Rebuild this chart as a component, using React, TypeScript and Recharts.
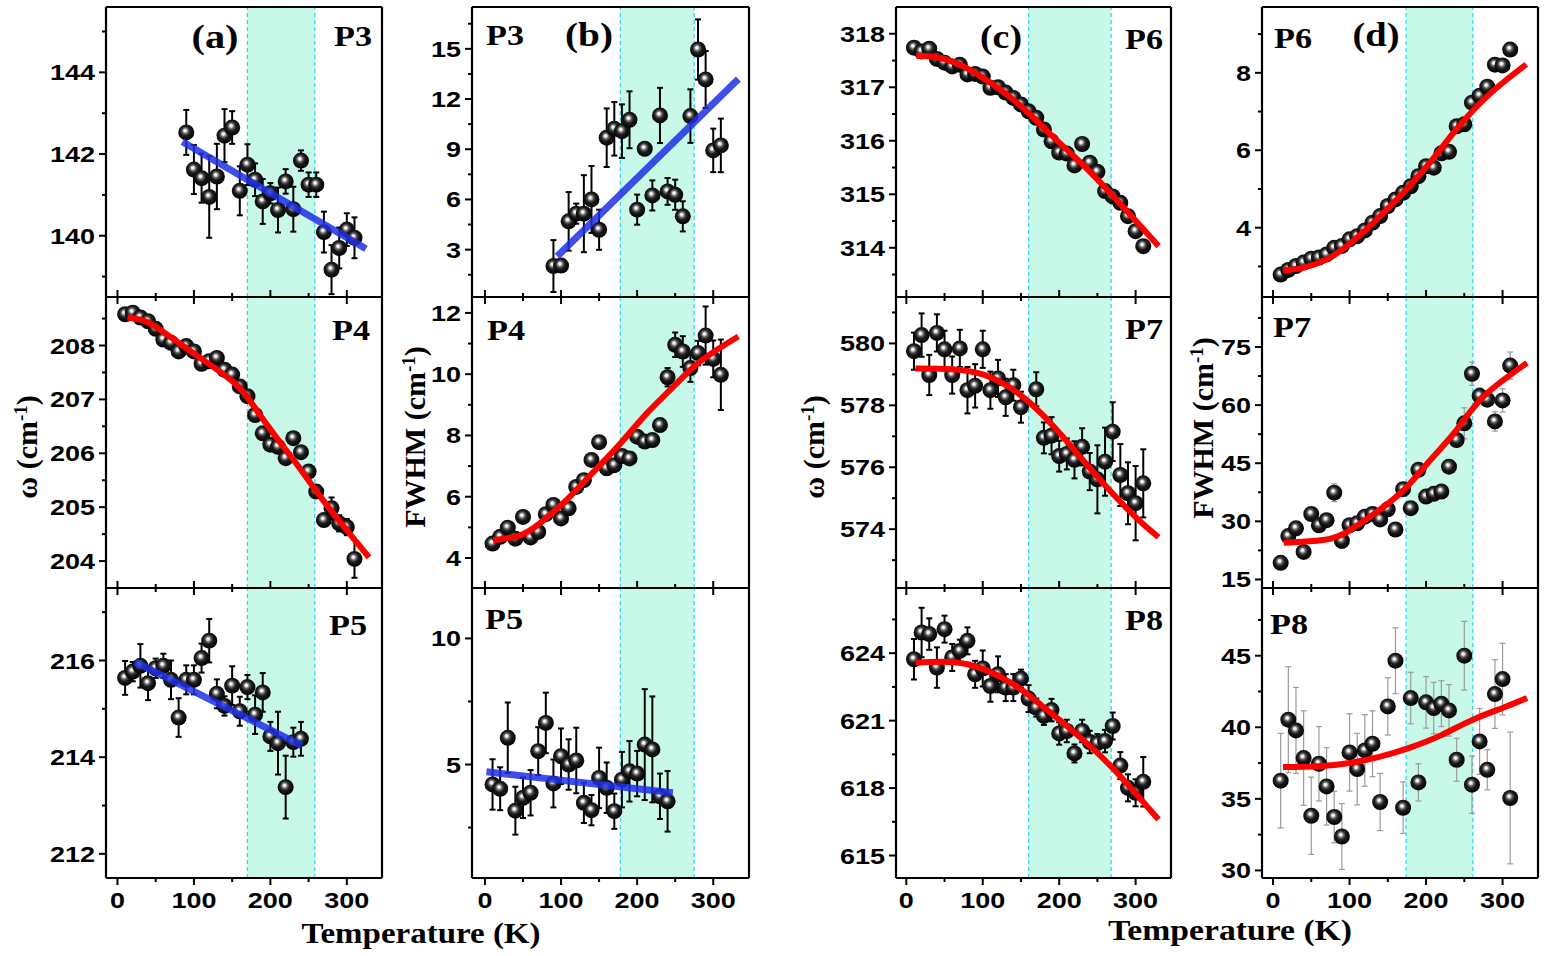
import React from "react";
import {
  ComposedChart,
  Scatter,
  XAxis,
  YAxis,
  ErrorBar,
  ReferenceArea,
  ReferenceLine,
} from "recharts";

// temperature grids (K)
const tempsAll = [10, 20, 30, 40, 50, 60, 70, 80, 90, 100, 110, 120, 130, 140, 150, 160, 170, 180, 190, 200, 210, 220, 230, 240, 250, 260, 270, 280, 290, 300, 310];
const tempsLow = [10, 20, 30, 40, 50, 60, 70, 80, 90, 100, 110, 120, 130, 140, 150, 160, 170, 180, 190, 200, 210, 220, 230, 240];
const tempsP3 = [90, 100, 110, 120, 130, 140, 150, 160, 170, 180, 190, 200, 210, 220, 230, 240, 250, 260, 270, 280, 290, 300, 310];
const tempsP7w = [10, 20, 30, 40, 50, 60, 70, 80, 90, 100, 110, 120, 130, 140, 150, 170, 180, 190, 200, 210, 220, 230, 240, 250, 260, 270, 280, 290, 300, 310];

const xMajor = [0, 100, 200, 300];
const xMinor = [50, 150, 250];

// (a) P3 omega
const wP3 = [142.53, 141.62, 141.41, 140.95, 141.45, 142.45, 142.65, 141.1, 141.74, 141.37, 140.84, 141.04, 140.63, 141.33, 140.65, 141.84, 141.25, 141.25, 140.09, 139.17, 139.7, 140.15, 139.95];
const wP3err = [0.55, 0.6, 0.6, 1.0, 0.8, 0.65, 0.4, 0.6, 0.5, 0.4, 0.55, 0.25, 0.55, 0.3, 0.55, 0.25, 0.3, 0.3, 0.5, 0.6, 0.5, 0.4, 0.5];
const wP3fitT = [85, 325];
const wP3fitV = [142.3, 139.68];

// (b) P3 FWHM
const gP3 = [2.02, 2.05, 4.69, 5.15, 5.15, 6.0, 4.19, 9.69, 10.22, 10.08, 10.76, 5.39, 9.03, 6.24, 11.02, 6.48, 6.28, 4.99, 10.98, 14.96, 13.17, 8.93, 9.23];
const gP3err = [1.55, 0.3, 1.75, 0.6, 2.3, 2.0, 1.2, 1.75, 1.6, 1.6, 1.7, 0.9, 0, 0.9, 1.65, 0.8, 0.9, 0.9, 1.6, 1.8, 1.7, 1.3, 1.6];
const gP3fitT = [95, 333];
const gP3fitV = [2.6, 13.2];

// (c) P6 omega
const wP6 = [317.74, 317.67, 317.72, 317.53, 317.46, 317.39, 317.42, 317.24, 317.25, 317.2, 316.99, 317.0, 316.9, 316.8, 316.68, 316.55, 316.43, 316.21, 315.99, 315.78, 315.76, 315.54, 315.94, 315.59, 315.42, 315.06, 314.96, 314.84, 314.59, 314.31, 314.03];
const wP6fitT = [13, 40, 70, 100, 130, 160, 190, 220, 250, 280, 310, 330];
const wP6fitV = [317.59, 317.56, 317.42, 317.18, 316.88, 316.52, 316.1, 315.7, 315.28, 314.82, 314.35, 314.03];

// (d) P6 FWHM
const gP6 = [2.79, 2.91, 3.01, 3.1, 3.2, 3.23, 3.31, 3.48, 3.53, 3.7, 3.78, 3.93, 4.13, 4.3, 4.56, 4.73, 4.9, 5.07, 5.33, 5.59, 5.55, 5.92, 5.96, 6.62, 6.67, 7.23, 7.41, 7.64, 8.21, 8.19, 8.6];
const gP6fitT = [13, 40, 70, 100, 135, 170, 205, 240, 283, 331];
const gP6fitV = [2.9, 2.97, 3.18, 3.58, 4.2, 4.9, 5.68, 6.55, 7.45, 8.22];

// P4 omega
const wP4 = [208.58, 208.61, 208.52, 208.45, 208.31, 208.11, 208.05, 207.89, 207.99, 207.89, 207.66, 207.71, 207.77, 207.55, 207.46, 207.24, 207.06, 206.71, 206.37, 206.16, 206.12, 205.91, 206.28, 206.02, 205.66, 205.29, 204.76, 204.98, 204.7, 204.63, 204.04];
const wP4err = [0.05, 0.05, 0.05, 0.05, 0.05, 0.05, 0.05, 0.05, 0.05, 0.05, 0.05, 0.05, 0.05, 0.05, 0.05, 0.05, 0.05, 0.05, 0.05, 0.05, 0.05, 0.05, 0.05, 0.05, 0.05, 0.1, 0.1, 0.2, 0.15, 0.15, 0.35];
const wP4fitT = [13, 30, 52, 99, 151, 177, 207, 237, 272, 329];
const wP4fitV = [208.52, 208.48, 208.33, 207.86, 207.33, 206.9, 206.31, 205.75, 205.07, 204.07];

// P4 FWHM
const gP4 = [4.47, 4.69, 4.99, 4.63, 5.34, 4.67, 4.85, 5.43, 5.73, 5.29, 5.62, 6.32, 6.54, 7.2, 7.78, 6.93, 7.03, 7.33, 7.25, 7.96, 7.8, 7.85, 8.34, 9.9, 10.96, 10.74, 10.2, 10.69, 11.26, 10.5, 9.98];
const gP4err = [0, 0, 0, 0, 0, 0, 0, 0, 0, 0, 0, 0, 0, 0, 0, 0, 0, 0, 0, 0, 0, 0, 0.1, 0.3, 0.4, 0.5, 0.45, 0.4, 0.95, 0.6, 1.15];
const gP4fitT = [11, 46, 72, 107, 143, 178, 213, 248, 283, 333];
const gP4fitV = [4.58, 4.74, 5.13, 5.89, 6.82, 7.74, 8.73, 9.6, 10.42, 11.23];

// P7 omega
const wP7 = [579.75, 580.27, 578.98, 580.34, 579.81, 578.98, 579.84, 578.49, 578.63, 579.81, 578.49, 578.87, 578.26, 578.65, 577.94, 578.52, 576.95, 577.02, 576.36, 576.43, 576.24, 576.66, 575.86, 575.61, 576.18, 577.15, 575.75, 575.16, 574.84, 575.48];
const wP7err = [0.6, 0.7, 0.65, 0.6, 0.6, 0.6, 0.6, 0.75, 0.7, 0.6, 0.6, 0.6, 0.6, 0.5, 0.5, 0.55, 0.5, 0.6, 0.5, 0.5, 0.6, 0.6, 0.6, 1.1, 1.1, 0.95, 1.0, 1.0, 1.2, 1.1];
const wP7fitT = [12, 60, 100, 140, 180, 220, 260, 300, 330];
const wP7fitV = [579.19, 579.17, 579.0, 578.5, 577.65, 576.55, 575.42, 574.39, 573.74];

// P7 FWHM
const gP7 = [19.3, 26.2, 28.2, 22.1, 31.9, 29.0, 30.3, 37.4, 25.0, 29.0, 29.5, 31.2, 31.9, 30.5, 33.1, 27.9, 38.3, 33.4, 43.3, 36.4, 37.1, 37.7, 44.1, 51.0, 55.3, 68.1, 62.4, 61.4, 55.8, 61.2, 70.2];
const gP7err = [1, 1, 1, 1, 1, 1, 1, 2.3, 2.0, 1, 1, 1, 1, 1, 1, 1, 1, 1, 1, 1, 1, 1, 1, 1, 4.0, 3.0, 2.0, 1.5, 2.5, 3.0, 3.5];
const gP7fitT = [14, 66, 97, 136, 171, 206, 240, 275, 332];
const gP7fitV = [24.5, 25.2, 27.3, 32.5, 38.1, 45.9, 53.6, 62.2, 70.9];

// P5 omega
const wP5 = [215.64, 215.77, 215.89, 215.53, 215.84, 215.89, 215.6, 214.82, 215.6, 215.6, 216.05, 216.41, 215.31, 215.06, 215.48, 214.95, 215.45, 214.88, 215.34, 214.43, 214.29, 213.38, 214.31, 214.38];
const wP5err = [0.35, 0.2, 0.45, 0.35, 0.2, 0.25, 0.4, 0.4, 0.3, 0.3, 0.3, 0.45, 0.3, 0.2, 0.4, 0.3, 0.25, 0.4, 0.4, 0.3, 0.65, 0.65, 0.3, 0.35];
const wP5fitT = [23, 241];
const wP5fitV = [215.97, 214.24];

// P5 FWHM
const gP5 = [4.21, 4.04, 6.06, 3.17, 3.68, 3.88, 5.53, 6.65, 4.25, 5.33, 5.0, 5.16, 3.48, 3.19, 4.47, 4.08, 3.15, 4.4, 4.73, 4.64, 5.79, 5.6, 3.74, 3.54];
const gP5err = [1.0, 0.85, 1.4, 0.95, 0.8, 0.9, 0.95, 1.2, 0.95, 1.1, 1.0, 1.3, 0.8, 0.6, 1.2, 1.0, 0.7, 1.1, 1.2, 0.9, 2.2, 2.1, 0.9, 1.2];
const gP5fitT = [2, 247];
const gP5fitV = [4.71, 3.88];

// P8 omega
const wP8 = [623.73, 624.92, 624.85, 623.36, 625.07, 623.81, 624.1, 624.55, 623.06, 623.32, 622.54, 623.06, 622.47, 622.47, 622.87, 621.98, 621.58, 621.21, 621.47, 620.43, 620.54, 619.54, 620.54, 620.05, 620.0, 620.09, 620.76, 619.0, 618.01, 617.79, 618.28];
const wP8err = [0.9, 1.1, 0.7, 0.9, 0.6, 0.6, 0.5, 0.6, 0.6, 0.8, 0.7, 0.8, 0.6, 0.6, 0.4, 0.6, 0.4, 0.4, 0.5, 0.5, 0.5, 0.4, 0.5, 0.5, 0.4, 0.5, 0.6, 0.6, 0.6, 0.6, 1.1];
const wP8fitT = [12, 62, 101, 140, 175, 210, 245, 280, 330];
const wP8fitV = [623.58, 623.6, 623.29, 622.62, 621.73, 620.76, 619.72, 618.53, 616.6];

// P8 FWHM
const gP8 = [36.27, 40.53, 39.78, 37.85, 33.82, 37.45, 35.87, 33.73, 32.37, 38.24, 37.08, 38.38, 38.85, 34.78, 41.46, 44.65, 34.38, 42.04, 36.15, 41.74, 41.34, 41.65, 41.18, 37.73, 45.0, 35.99, 39.01, 37.03, 42.32, 43.37, 35.06];
const gP8err = [3.3, 3.7, 3.0, 3.3, 2.7, 2.6, 2.7, 1.8, 2.3, 2.7, 2.5, 2.5, 2.3, 2.0, 2.0, 2.3, 1.8, 1.8, 1.3, 1.8, 1.8, 1.6, 1.8, 1.5, 2.4, 2.0, 2.3, 1.4, 2.4, 2.5, 4.6];
const gP8fitT = [13, 60, 100, 140, 180, 220, 260, 300, 332];
const gP8fitV = [37.22, 37.28, 37.5, 37.95, 38.6, 39.45, 40.5, 41.35, 42.04];

const serif = "'Liberation Serif', 'Times New Roman', serif";
const sans = "'Liberation Sans', Arial, sans-serif";
const RED = "#ff0000";
const BLUE = "#1f2fe6";
const frame = { stroke: "#000", strokeWidth: 2.2 };

// column / row boxes in page pixels
const colA: [number, number] = [106, 382];
const colB: [number, number] = [472, 749];
const colC: [number, number] = [896, 1171];
const colD: [number, number] = [1262, 1538];
const row1: [number, number] = [7, 297];
const row2: [number, number] = [297, 588];
const row3: [number, number] = [588, 878];

type PanelProps = {
  col: [number, number];
  row: [number, number];
  xDomain: [number, number];
  yDomain: [number, number];
  yMajor: number[];
  yMinor: number[];
  temps: number[];
  vals: number[];
  errs?: number[];
  fitT: number[];
  fitV: number[];
  fitColor: string;
  band: [number, number];
  xLabels?: boolean;
  topTicks?: boolean;
  thinErr?: boolean;
};

const tickText = (v: number) => String(v);

const Ball = (p: any) => {
  if (p.cx == null || p.cy == null) return <g />;
  return <circle cx={p.cx} cy={p.cy} r={8} fill="url(#ballGrad)" />;
};
const NoDot = () => <g />;

function Panel(props: PanelProps) {
  const { col, row, xDomain, yDomain, yMajor, yMinor, temps, vals, errs, fitT, fitV, fitColor, band, xLabels, topTicks, thinErr } = props;
  const L = 80, R = 4, T = 12, B = 44;
  const w = col[1] - col[0];
  const h = row[1] - row[0];
  const pts = temps.map((t, i) => ({ x: t, y: vals[i], e: errs ? errs[i] : 0 }));
  const fit = fitT.map((t, i) => ({ x: t, y: fitV[i] }));
  const yTicks = [...yMajor, ...yMinor].sort((a, b) => a - b);
  const blue = fitColor === BLUE;

  const bottomTick = (p: any) => {
    const v = p.payload.value;
    const major = xMajor.includes(v);
    const s = tickText(v);
    return (
      <g>
        <line x1={p.x} y1={p.y} x2={p.x} y2={p.y + (major ? 7 : 4)} stroke="#000" strokeWidth={2} />
        {xLabels && major ? (
          <text x={p.x} y={p.y + 30} textAnchor="middle" fontFamily={sans} fontWeight="bold" fontSize={22} fill="#000"
            textLength={s.length * 15} lengthAdjust="spacingAndGlyphs">{s}</text>
        ) : null}
      </g>
    );
  };
  const topTick = (p: any) => {
    const v = p.payload.value;
    const major = xMajor.includes(v);
    if (!topTicks) return <g />;
    return <line x1={p.x} y1={p.y} x2={p.x} y2={p.y - (major ? 7 : 4)} stroke="#000" strokeWidth={2} />;
  };
  const leftTick = (p: any) => {
    const v = p.payload.value;
    const major = yMajor.includes(v);
    const s = tickText(v);
    return (
      <g>
        <line x1={p.x} y1={p.y} x2={p.x - (major ? 7 : 4)} y2={p.y} stroke="#000" strokeWidth={2} />
        {major ? (
          <text x={p.x - 11} y={p.y + 8} textAnchor="end" fontFamily={sans} fontWeight="bold" fontSize={22} fill="#000"
            textLength={s.length * 15} lengthAdjust="spacingAndGlyphs">{s}</text>
        ) : null}
      </g>
    );
  };

  return (
    <div style={{ position: "absolute", left: col[0] - L, top: row[0] - T }}>
      <ComposedChart width={w + L + R} height={h + T + B} margin={{ top: 0, right: 0, bottom: 0, left: 0 }}>
        <XAxis xAxisId="b" type="number" dataKey="x" domain={xDomain} allowDataOverflow ticks={[...xMajor, ...xMinor]}
          interval={0} height={B} tickSize={0} tickMargin={0} tickLine={false} axisLine={frame} tick={bottomTick} />
        <XAxis xAxisId="t" orientation="top" type="number" dataKey="x" domain={xDomain} allowDataOverflow ticks={[...xMajor, ...xMinor]}
          interval={0} height={T} tickSize={0} tickMargin={0} tickLine={false} axisLine={frame} tick={topTick} />
        <YAxis yAxisId="l" type="number" domain={yDomain} allowDataOverflow ticks={yTicks} interval={0} width={L}
          tickSize={0} tickMargin={0} tickLine={false} axisLine={frame} tick={leftTick} />
        <YAxis yAxisId="r" orientation="right" type="number" domain={yDomain} allowDataOverflow width={R}
          tick={false} tickLine={false} axisLine={frame} />
        <ReferenceArea xAxisId="b" yAxisId="l" x1={band[0]} x2={band[1]} fill="#c8f9e8" fillOpacity={1} stroke="none" />
        <ReferenceLine xAxisId="b" yAxisId="l" x={band[0]} stroke="#35d8ee" strokeDasharray="4 3" strokeWidth={1.3} />
        <ReferenceLine xAxisId="b" yAxisId="l" x={band[1]} stroke="#35d8ee" strokeDasharray="4 3" strokeWidth={1.3} />
        <Scatter xAxisId="b" yAxisId="l" data={pts} dataKey="y" shape={Ball} isAnimationActive={false}>
          {errs ? (
            <ErrorBar dataKey="e" direction="y" width={3} stroke={thinErr ? "#9a9a9a" : "#000"} strokeWidth={thinErr ? 1.2 : 2} />
          ) : null}
        </Scatter>
        <Scatter xAxisId="b" yAxisId="l" data={fit} dataKey="y" shape={NoDot} lineJointType="natural"
          line={{ stroke: fitColor, strokeWidth: blue ? 7 : 6, strokeOpacity: blue ? 0.85 : 1, fill: "none" }}
          isAnimationActive={false} />
      </ComposedChart>
    </div>
  );
}

const Tag = ({ x, y, anchor, size = 30, len, children }: any) => (
  <text x={x} y={y} textAnchor={anchor} fontSize={size} textLength={len} lengthAdjust="spacingAndGlyphs">{children}</text>
);

export default function App() {
  const dA: [number, number] = [-15, 346];
  const dB: [number, number] = [-17, 347];
  const dC: [number, number] = [-13.5, 346.3];
  const dD: [number, number] = [-14.4, 346.3];
  const bA: [number, number] = [170, 258];
  const bB: [number, number] = [178, 275];
  const bC: [number, number] = [160, 268];
  const bD: [number, number] = [174, 261];
  return (
    <div style={{ position: "absolute", left: 0, top: 0, width: 1544, height: 956, background: "#fff", overflow: "hidden" }}>
      <svg width={0} height={0} style={{ position: "absolute" }}>
        <defs>
          <radialGradient id="ballGrad" cx="0.47" cy="0.45" r="0.55" fx="0.42" fy="0.38">
            <stop offset="0" stopColor="#ffffff" />
            <stop offset="0.14" stopColor="#eeeeee" />
            <stop offset="0.32" stopColor="#6a6a6a" />
            <stop offset="0.55" stopColor="#1c1c1c" />
            <stop offset="1" stopColor="#000000" />
          </radialGradient>
        </defs>
      </svg>

      {/* row 1 */}
      <Panel col={colA} row={row1} xDomain={dA} yDomain={[138.5, 145.6]} yMajor={[140, 142, 144]} yMinor={[139, 141, 143, 145]}
        temps={tempsP3} vals={wP3} errs={wP3err} fitT={wP3fitT} fitV={wP3fitV} fitColor={BLUE} band={bA} />
      <Panel col={colB} row={row1} xDomain={dB} yDomain={[0.17, 17.5]} yMajor={[3, 6, 9, 12, 15]} yMinor={[1.5, 4.5, 7.5, 10.5, 13.5, 16.5]}
        temps={tempsP3} vals={gP3} errs={gP3err} fitT={gP3fitT} fitV={gP3fitV} fitColor={BLUE} band={bB} />
      <Panel col={colC} row={row1} xDomain={dC} yDomain={[313.08, 318.5]} yMajor={[314, 315, 316, 317, 318]} yMinor={[313.5, 314.5, 315.5, 316.5, 317.5]}
        temps={tempsAll} vals={wP6} fitT={wP6fitT} fitV={wP6fitV} fitColor={RED} band={bC} />
      <Panel col={colD} row={row1} xDomain={dD} yDomain={[2.21, 9.7]} yMajor={[4, 6, 8]} yMinor={[3, 5, 7, 9]}
        temps={tempsAll} vals={gP6} fitT={gP6fitT} fitV={gP6fitV} fitColor={RED} band={bD} />

      {/* row 2 */}
      <Panel col={colA} row={row2} xDomain={dA} yDomain={[203.5, 208.9]} yMajor={[204, 205, 206, 207, 208]} yMinor={[204.5, 205.5, 206.5, 207.5, 208.5]}
        temps={tempsAll} vals={wP4} errs={wP4err} fitT={wP4fitT} fitV={wP4fitV} fitColor={RED} band={bA} topTicks />
      <Panel col={colB} row={row2} xDomain={dB} yDomain={[3.02, 12.52]} yMajor={[4, 6, 8, 10, 12]} yMinor={[5, 7, 9, 11]}
        temps={tempsAll} vals={gP4} errs={gP4err} fitT={gP4fitT} fitV={gP4fitV} fitColor={RED} band={bB} topTicks />
      <Panel col={colC} row={row2} xDomain={dC} yDomain={[572.1, 581.5]} yMajor={[574, 576, 578, 580]} yMinor={[573, 575, 577, 579, 581]}
        temps={tempsP7w} vals={wP7} errs={wP7err} fitT={wP7fitT} fitV={wP7fitV} fitColor={RED} band={bC} topTicks />
      <Panel col={colD} row={row2} xDomain={dD} yDomain={[12.8, 87.9]} yMajor={[15, 30, 45, 60, 75]} yMinor={[22.5, 37.5, 52.5, 67.5, 82.5]}
        temps={tempsAll} vals={gP7} errs={gP7err} fitT={gP7fitT} fitV={gP7fitV} fitColor={RED} band={bD} topTicks thinErr />

      {/* row 3 */}
      <Panel col={colA} row={row3} xDomain={dA} yDomain={[211.5, 217.5]} yMajor={[212, 214, 216]} yMinor={[213, 215, 217]}
        temps={tempsLow} vals={wP5} errs={wP5err} fitT={wP5fitT} fitV={wP5fitV} fitColor={BLUE} band={bA} topTicks xLabels />
      <Panel col={colB} row={row3} xDomain={dB} yDomain={[0.5, 12]} yMajor={[5, 10]} yMinor={[2.5, 7.5]}
        temps={tempsLow} vals={gP5} errs={gP5err} fitT={gP5fitT} fitV={gP5fitV} fitColor={BLUE} band={bB} topTicks xLabels />
      <Panel col={colC} row={row3} xDomain={dC} yDomain={[614, 626.9]} yMajor={[615, 618, 621, 624]} yMinor={[616.5, 619.5, 622.5, 625.5]}
        temps={tempsAll} vals={wP8} errs={wP8err} fitT={wP8fitT} fitV={wP8fitV} fitColor={RED} band={bC} topTicks xLabels />
      <Panel col={colD} row={row3} xDomain={dD} yDomain={[29.47, 49.73]} yMajor={[30, 35, 40, 45]} yMinor={[32.5, 37.5, 42.5, 47.5]}
        temps={tempsAll} vals={gP8} errs={gP8err} fitT={gP8fitT} fitV={gP8fitV} fitColor={RED} band={bD} topTicks xLabels thinErr />

      <svg width={1544} height={956} style={{ position: "absolute", left: 0, top: 0, pointerEvents: "none" }}>
        <g fontFamily={serif} fontWeight="bold" fill="#000">
          <Tag x={215} y={48} anchor="middle" size={33} len={47}>(a)</Tag>
          <Tag x={589} y={46} anchor="middle" size={33} len={48}>(b)</Tag>
          <Tag x={1001} y={48} anchor="middle" size={33} len={42}>(c)</Tag>
          <Tag x={1376} y={46} anchor="middle" size={33} len={47}>(d)</Tag>

          <Tag x={372} y={46} anchor="end" len={38}>P3</Tag>
          <Tag x={486} y={45} anchor="start" len={38}>P3</Tag>
          <Tag x={1163} y={49} anchor="end" len={38}>P6</Tag>
          <Tag x={1274} y={48} anchor="start" len={38}>P6</Tag>

          <Tag x={370} y={340} anchor="end" len={38}>P4</Tag>
          <Tag x={487} y={340} anchor="start" len={38}>P4</Tag>
          <Tag x={1163} y={339} anchor="end" len={38}>P7</Tag>
          <Tag x={1273} y={337} anchor="start" len={38}>P7</Tag>

          <Tag x={367} y={635} anchor="end" len={38}>P5</Tag>
          <Tag x={485} y={629} anchor="start" len={38}>P5</Tag>
          <Tag x={1163} y={630} anchor="end" len={38}>P8</Tag>
          <Tag x={1270} y={634} anchor="start" len={38}>P8</Tag>

          <text transform="translate(37,447) rotate(-90)" textAnchor="middle" fontSize={30}>
            ω (cm<tspan baselineShift="super" fontSize={19}>-1</tspan>)
          </text>
          <text transform="translate(425,437) rotate(-90)" textAnchor="middle" fontSize={30}>
            FWHM (cm<tspan baselineShift="super" fontSize={19}>-1</tspan>)
          </text>
          <text transform="translate(824,447) rotate(-90)" textAnchor="middle" fontSize={30}>
            ω (cm<tspan baselineShift="super" fontSize={19}>-1</tspan>)
          </text>
          <text transform="translate(1213,428) rotate(-90)" textAnchor="middle" fontSize={30}>
            FWHM (cm<tspan baselineShift="super" fontSize={19}>-1</tspan>)
          </text>

          <Tag x={421} y={943} anchor="middle" size={29} len={239}>Temperature (K)</Tag>
          <Tag x={1230} y={940} anchor="middle" size={29} len={244}>Temperature (K)</Tag>
        </g>
      </svg>
    </div>
  );
}
